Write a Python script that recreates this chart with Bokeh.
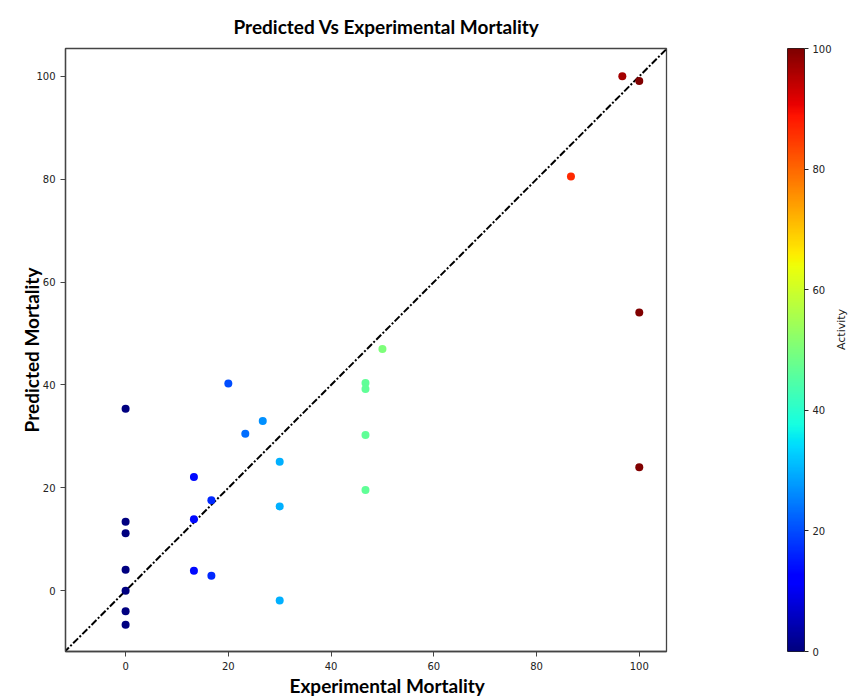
import numpy as np
from bokeh.plotting import figure
from bokeh.models import ColumnDataSource, LinearColorMapper, Range1d, FixedTicker, Title
from bokeh.layouts import row
from bokeh.transform import linear_cmap
from bokeh.embed import file_html
from bokeh.resources import INLINE

# ---------------- data ----------------
exp_mortality = [0, 0, 0, 0, 0, 0, 0,
                 13.3, 13.3, 13.3, 16.7, 16.7, 20.0, 23.3, 26.7,
                 30.0, 30.0, 30.0, 46.7, 46.7, 46.7, 46.7, 50.0,
                 86.7, 96.7, 100.0, 100.0, 100.0]
pred_mortality = [35.4, 13.4, 11.2, 4.1, 0.0, -4.0, -6.6,
                  22.1, 13.9, 3.9, 17.6, 2.9, 40.3, 30.5, 33.0,
                  25.1, 16.4, -1.9, 40.4, 39.2, 30.3, 19.6, 47.0,
                  80.5, 100.0, 99.1, 54.1, 24.0]
activity = list(exp_mortality)
x_ticks = [0, 20, 40, 60, 80, 100]
y_ticks = [0, 20, 40, 60, 80, 100]
cbar_ticks = [0, 20, 40, 60, 80, 100]
diag = [-12, 106]


def jet(n=256):
    t = np.linspace(0, 1, n)
    r = np.interp(t, [0, 0.35, 0.66, 0.89, 1], [0, 0, 1, 1, 0.5])
    g = np.interp(t, [0, 0.125, 0.375, 0.64, 0.91, 1], [0, 0, 1, 1, 0, 0])
    b = np.interp(t, [0, 0.11, 0.34, 0.65, 1], [0.5, 1, 1, 0, 0])
    return ["#%02x%02x%02x" % (int(round(a * 255)), int(round(c * 255)), int(round(d * 255)))
            for a, c, d in zip(r, g, b)]


JET = jet()
TICK_FONT = "DejaVu Sans"
LABEL_FONT = "Lato"

src = ColumnDataSource(dict(x=exp_mortality, y=pred_mortality, activity=activity))

p = figure(width=676, height=700,
           x_range=Range1d(-11.7, 105.3), y_range=Range1d(-11.8, 105.4),
           output_backend="svg", toolbar_location=None,
           min_border_left=65, min_border_right=10,
           min_border_top=48, min_border_bottom=49)
p.grid.visible = False
p.outline_line_color = "#444444"
p.outline_line_width = 1.3
p.background_fill_color = "white"
p.border_fill_color = "white"

for ax, ticks in ((p.xaxis, x_ticks), (p.yaxis, y_ticks)):
    ax.ticker = FixedTicker(ticks=ticks)
    ax.minor_tick_line_color = None
    ax.major_tick_in = 0
    ax.major_tick_out = 5
    ax.major_tick_line_color = "#444444"
    ax.axis_line_color = "#444444"
    ax.axis_line_width = 1.3
    ax.major_label_text_font = TICK_FONT
    ax.major_label_text_font_size = "10px"
    ax.major_label_text_color = "#222222"

p.yaxis.axis_label = "Predicted Mortality"
p.yaxis.axis_label_text_font = LABEL_FONT
p.yaxis.axis_label_text_font_style = "bold"
p.yaxis.axis_label_text_font_size = "19px"
p.yaxis.axis_label_text_color = "black"
p.yaxis.axis_label_standoff = -10

p.line(diag, diag, line_color="black", line_width=2, line_dash="7 2 2 2")
p.scatter("x", "y", source=src, size=8, line_color=None,
          fill_color=linear_cmap("activity", JET, 0, 100))

p.add_layout(Title(text="Predicted Vs Experimental Mortality", align="left", offset=168,
                   standoff=22, text_font=LABEL_FONT, text_font_style="bold",
                   text_font_size="19px", text_color="black"), "above")
p.add_layout(Title(text="Experimental Mortality", align="left", offset=224,
                   standoff=0, vertical_align="middle",
                   text_font=LABEL_FONT, text_font_style="bold",
                   text_font_size="19px", text_color="black"), "below")

# ---------------- colour bar ----------------
c = figure(width=181, height=700, x_range=Range1d(0, 1), y_range=Range1d(0, 100),
           output_backend="svg", toolbar_location=None,
           x_axis_location=None, y_axis_location="right",
           min_border_left=111, min_border_right=41,
           min_border_top=48, min_border_bottom=49)
c.grid.visible = False
c.outline_line_color = "#222222"
c.outline_line_width = 1
mapper = LinearColorMapper(palette=JET, low=0, high=100)
grad = np.linspace(0, 100, 256).reshape(256, 1)
c.image(image=[grad], x=0, y=0, dw=1, dh=100, color_mapper=mapper)
ay = c.yaxis[0]
ay.ticker = FixedTicker(ticks=cbar_ticks)
ay.minor_tick_line_color = None
ay.major_tick_in = 0
ay.major_tick_out = 4
ay.major_label_standoff = 4
ay.axis_line_color = None
ay.major_tick_line_color = "#222222"
ay.major_label_text_font = TICK_FONT
ay.major_label_text_font_size = "10px"
ay.major_label_text_color = "#222222"
ay.axis_label = "Activity"
ay.axis_label_standoff = 7
ay.axis_label_orientation = np.pi / 2
ay.axis_label_text_font = TICK_FONT
ay.axis_label_text_font_style = "normal"
ay.axis_label_text_font_size = "11px"
ay.axis_label_text_color = "#222222"

layout = row(p, c)
open("out.html", "w").write(file_html(layout, INLINE))
